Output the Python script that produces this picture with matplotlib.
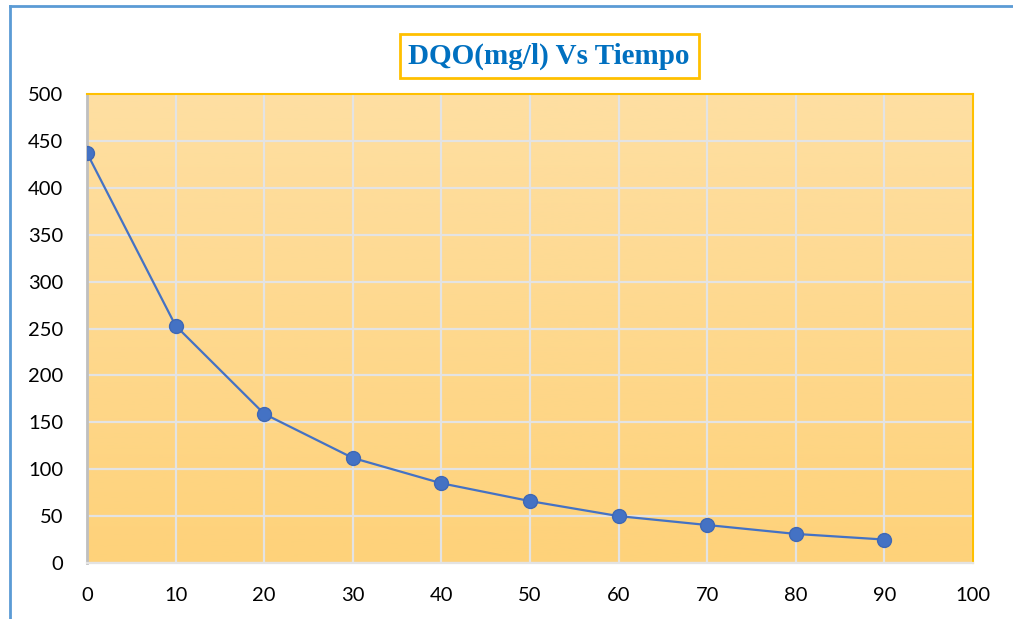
import numpy as np
import matplotlib.pyplot as plt
from matplotlib.lines import Line2D
from matplotlib.colors import LinearSegmentedColormap

# datos
tiempo = [0, 10, 20, 30, 40, 50, 60, 70, 80, 90]
dqo = [437, 253, 159, 112, 85, 66, 50, 40.5, 31, 25]
x_ticks = [0, 10, 20, 30, 40, 50, 60, 70, 80, 90, 100]
y_ticks = [0, 50, 100, 150, 200, 250, 300, 350, 400, 450, 500]

fig = plt.figure(figsize=(10.13, 6.19), dpi=100)
ax = fig.add_axes([87/1013, 56/619, 886/1013, 469/619])

# fondo degradado
cmap = LinearSegmentedColormap.from_list('fondo', ['#FED27A', '#FEDFA2'])
grad = np.linspace(0, 1, 256).reshape(-1, 1)
ax.imshow(grad, aspect='auto', cmap=cmap, origin='lower',
          extent=[0, 1, 0, 1], transform=ax.transAxes, zorder=0)

ax.set_xlim(0, 100)
ax.set_ylim(0, 500)
ax.set_xticks(x_ticks)
ax.set_yticks(y_ticks)
ax.grid(True, color='#E3E3E3', linewidth=1.6, zorder=1)
ax.set_axisbelow(True)

ax.plot(tiempo, dqo, color='#4472C4', linewidth=1.6, marker='o',
        markersize=10, markerfacecolor='#4472C4', markeredgecolor='#3F68B5',
        zorder=3)

for s in ['top', 'right']:
    ax.spines[s].set_color('#FFC000')
    ax.spines[s].set_linewidth(1.5)
ax.spines['left'].set_color('#BFBFBF')
ax.spines['left'].set_linewidth(2)
ax.spines['bottom'].set_color('#E3E3E3')
ax.spines['bottom'].set_linewidth(1.6)

ax.tick_params(length=0, labelsize=14.5)
ax.tick_params(axis='x', pad=17)
ax.tick_params(axis='y', pad=17)
for lab in ax.get_xticklabels() + ax.get_yticklabels():
    lab.set_fontfamily('Lato')

fig.text(549/1013, 1 - 56/619, 'DQO(mg/l) Vs Tiempo', ha='center', va='center',
         fontsize=21, fontweight='bold', color='#0070C0',
         family='Liberation Serif',
         bbox=dict(boxstyle='square,pad=0.3', facecolor='white',
                   edgecolor='#FFC000', linewidth=2))

# marco exterior
fig.add_artist(Line2D([10/1013, 10/1013], [0, 1 - 6/619], color='#5B9BD5', linewidth=2))
fig.add_artist(Line2D([10/1013, 1], [1 - 6/619, 1 - 6/619], color='#5B9BD5', linewidth=2))

fig.savefig('out.png', dpi=100)
